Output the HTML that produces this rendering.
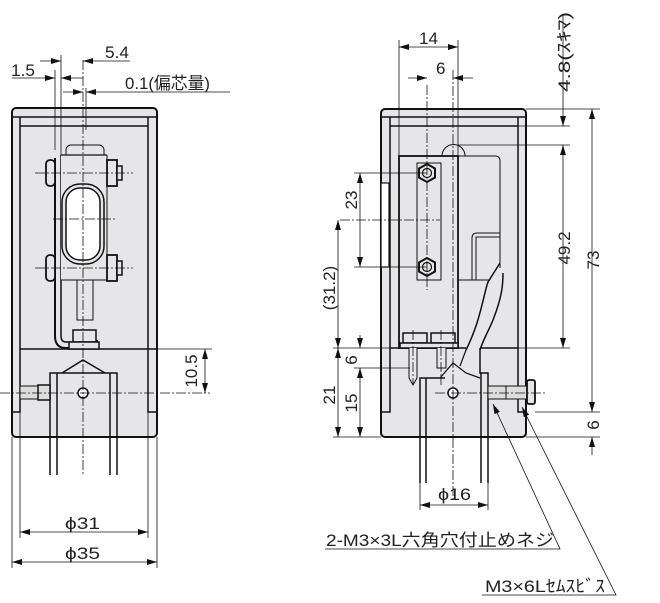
<!DOCTYPE html>
<html><head><meta charset="utf-8"><style>
html,body{margin:0;padding:0;background:#fff;}
svg{display:block;}
text{font-family:"Liberation Sans","Noto Sans CJK JP",sans-serif;font-size:17px;font-weight:normal;fill:#222;stroke:none;}
</style></head><body>
<svg width="660" height="603" viewBox="0 0 660 603" xmlns="http://www.w3.org/2000/svg">
<defs>
<marker id="a" markerWidth="10" markerHeight="6" refX="10" refY="3" orient="auto-start-reverse" markerUnits="userSpaceOnUse"><path d="M0,0 L10,3 L0,6 Z" fill="#111" stroke="none"/></marker>
</defs>
<g stroke="#111" fill="none" stroke-width="1">
<!-- LEFT VIEW -->
<rect x="12" y="108" width="145" height="329" rx="4" fill="#e6e6e8" stroke-width="2"/>
<line x1="12" y1="117" x2="157" y2="117" stroke-width="1.5"/>
<line x1="20" y1="126" x2="148" y2="126" stroke-width="1.5"/>
<polyline points="20,117 20,412 12,412" stroke-width="1.5"/>
<polyline points="148,117 148,412 157,412" stroke-width="1.5"/>
<line x1="20" y1="349" x2="157" y2="349" stroke-width="1.5"/>
<polyline points="50,475 50,373 117,373 117,475" stroke-width="1.5"/>
<line x1="57" y1="373" x2="57" y2="475" stroke-width="1.5"/>
<line x1="110" y1="373" x2="110" y2="475" stroke-width="1.5"/>
<polyline points="62,373 83,360 105,373" stroke-width="1.5"/>
<circle cx="83" cy="393" r="5" fill="#fff" stroke-width="1.5"/>
<rect x="20" y="386" width="18" height="13" fill="#ddd"/>
<rect x="38" y="385" width="12" height="15" fill="#ddd" stroke-width="1.5"/>
<rect x="66" y="145" width="38" height="20" rx="5" fill="#e6e6e8"/>
<path d="M55,158 L55,336 Q55,348 66,348 L97,348 L97,340" stroke-width="2"/>
<path d="M61,155 L61,336 Q61,342 66,342 L72,342" stroke-width="1.5"/>
<rect x="61" y="155" width="46" height="125" fill="#e6e6e8" stroke="none"/>
<line x1="61" y1="155" x2="107" y2="155" stroke-width="1.2"/>
<line x1="107" y1="155" x2="107" y2="280"/>
<line x1="61" y1="280" x2="107" y2="280"/>
<rect x="62" y="184" width="42" height="80" rx="18" fill="#e6e6e8" stroke-width="1.5"/>
<rect x="66" y="188" width="34" height="72" rx="14" fill="#fff" stroke-width="1.5"/>
<rect x="46" y="160" width="9" height="26" rx="4" fill="#e6e6e8" stroke-width="1.8"/>
<rect x="46" y="255" width="9" height="26" rx="4" fill="#e6e6e8" stroke-width="1.8"/>
<rect x="107" y="160" width="10" height="26" fill="#e6e6e8" stroke-width="1.8"/>
<rect x="117" y="166" width="5" height="14" fill="#e6e6e8" stroke-width="1.5"/>
<rect x="107" y="255" width="10" height="26" fill="#e6e6e8" stroke-width="1.8"/>
<rect x="117" y="261" width="5" height="14" fill="#e6e6e8" stroke-width="1.5"/>
<rect x="77" y="280" width="16" height="40" fill="#e6e6e8"/>
<rect x="73" y="330" width="23" height="12" fill="#e6e6e8" stroke-width="1.5"/>
<rect x="69" y="342" width="30" height="7" fill="#e6e6e8" stroke-width="1.5"/>
<g stroke-dasharray="10,2,2,2" stroke-width="0.8">
<line x1="83" y1="60" x2="83" y2="475"/>
<line x1="35" y1="173" x2="133" y2="173"/>
<line x1="35" y1="268" x2="133" y2="268"/>
<line x1="53" y1="219" x2="115" y2="219"/>
<line x1="0" y1="393" x2="210" y2="393"/>
</g>
<g stroke-width="0.8">
<line x1="55" y1="70" x2="55" y2="150"/>
<line x1="61" y1="55" x2="61" y2="155"/>
<line x1="86" y1="88" x2="86" y2="130"/>
<line x1="40" y1="61" x2="61" y2="61" marker-end="url(#a)"/>
<line x1="83" y1="61" x2="130" y2="61" marker-start="url(#a)"/>
<line x1="12" y1="78" x2="55" y2="78" marker-end="url(#a)"/>
<line x1="61" y1="78" x2="83" y2="78" marker-start="url(#a)"/>
<line x1="63" y1="92" x2="83" y2="92" marker-end="url(#a)"/>
<line x1="86" y1="92" x2="230" y2="92" marker-start="url(#a)"/>
<line x1="157" y1="349" x2="212" y2="349"/>
<line x1="205" y1="349" x2="205" y2="393" marker-start="url(#a)" marker-end="url(#a)"/>
<line x1="20" y1="412" x2="20" y2="538"/>
<line x1="148" y1="412" x2="148" y2="538"/>
<line x1="12" y1="437" x2="12" y2="568"/>
<line x1="157" y1="437" x2="157" y2="568"/>
<line x1="20" y1="532" x2="148" y2="532" marker-start="url(#a)" marker-end="url(#a)"/>
<line x1="12" y1="562" x2="157" y2="562" marker-start="url(#a)" marker-end="url(#a)"/>
</g>

<!-- RIGHT VIEW -->
<rect x="381" y="109" width="145" height="328" rx="4" fill="#e6e6e8" stroke-width="2"/>
<line x1="381" y1="117" x2="526" y2="117" stroke-width="1.5"/>
<line x1="390" y1="126" x2="518" y2="126" stroke-width="1.5"/>
<polyline points="390,117 390,412 381,412" stroke-width="1.5"/>
<polyline points="518,117 518,412 526,412" stroke-width="1.5"/>
<line x1="390" y1="348" x2="466" y2="348" stroke-width="1.5"/>
<line x1="480" y1="348" x2="518" y2="348" stroke-width="1.5"/>
<rect x="381" y="183" width="8" height="84" fill="#fff" stroke-width="1.2"/>
<polyline points="420,483 420,378 445,378" stroke-width="1.5"/>
<line x1="426" y1="378" x2="426" y2="483" stroke-width="1.5"/>
<polyline points="480,348 480,373 488,373 488,483" stroke-width="1.5"/>
<line x1="481" y1="373" x2="481" y2="483" stroke-width="1.5"/>
<polyline points="440,378 453,363 466,373 480,378" stroke-width="1.2"/>
<circle cx="453" cy="393" r="5" fill="#fff" stroke-width="1.5"/>
<path d="M442,156 A11,11 0 0 1 465,156" fill="#e6e6e8"/>
<path d="M458,156 L495,156 Q500,156 500,161 L500,268" />
<path d="M472,280 L472,238 Q472,233 477,233 L500,233" />
<path d="M476,280 L476,237 L500,237" />
<line x1="458" y1="280" x2="490" y2="280"/>
<rect x="399" y="156" width="59" height="192" fill="#e6e6e8" stroke-width="1.8"/>
<rect x="417" y="163" width="24" height="117" fill="#e6e6e8"/>
<path d="M500,263 L488,282 C485,290 484,300 477,323 C473,335 470,342 466,350" stroke-width="1.5"/>
<path d="M503,273 C503,285 502,297 493,320 C489,330 483,340 480,350" stroke-width="1.5"/>
<path d="M466,350 L460,366" stroke-width="1.2"/>
<polygon points="427,164 435,168.5 435,177.5 427,182 419,177.5 419,168.5" fill="#e6e6e8" stroke-width="2"/>
<circle cx="427" cy="173" r="4.5" stroke-width="1.2"/>
<polygon points="427,258 435,262.5 435,271.5 427,276 419,271.5 419,262.5" fill="#e6e6e8" stroke-width="2"/>
<circle cx="427" cy="267" r="4.5" stroke-width="1.2"/>
<rect x="403" y="333" width="24" height="10" fill="#e6e6e8" stroke-width="1.5"/>
<rect x="431" y="333" width="24" height="10" fill="#e6e6e8" stroke-width="1.5"/>
<rect x="400" y="343" width="58" height="5" fill="#e6e6e8" stroke-width="1.5"/>
<path d="M409,348 L409,378 L413,385 L417,378 L417,348" fill="#e6e6e8"/>
<path d="M437,348 L437,368 L446,368 L446,348" fill="#e6e6e8"/>
<rect x="488" y="386" width="18" height="13" fill="#ddd"/>
<rect x="506" y="386" width="21" height="13" fill="#ddd"/>
<rect x="527" y="380" width="8" height="24" rx="2" fill="#e6e6e8" stroke-width="1.8"/>
<g stroke-dasharray="10,2,2,2" stroke-width="0.8">
<line x1="453" y1="70" x2="453" y2="500"/>
<line x1="427" y1="85" x2="427" y2="290"/>
<line x1="340" y1="220" x2="440" y2="220"/>
<line x1="435" y1="393" x2="545" y2="393"/>
<line x1="413" y1="330" x2="413" y2="385"/>
<line x1="441" y1="330" x2="441" y2="385"/>
</g>
<g stroke-width="0.8">
<line x1="399" y1="40" x2="399" y2="156"/>
<line x1="458" y1="40" x2="458" y2="156"/>
<line x1="399" y1="47" x2="458" y2="47" marker-start="url(#a)" marker-end="url(#a)"/>
<line x1="408" y1="78" x2="427" y2="78" marker-end="url(#a)"/>
<line x1="453" y1="78" x2="473" y2="78" marker-start="url(#a)"/>
<line x1="526" y1="109" x2="600" y2="109"/>
<line x1="518" y1="126" x2="570" y2="126"/>
<line x1="458" y1="145" x2="570" y2="145"/>
<line x1="518" y1="348" x2="570" y2="348"/>
<line x1="535" y1="412" x2="600" y2="412"/>
<line x1="526" y1="437" x2="600" y2="437"/>
<line x1="563" y1="15" x2="563" y2="126" marker-end="url(#a)"/>
<line x1="563" y1="145" x2="563" y2="348" marker-start="url(#a)" marker-end="url(#a)"/>
<line x1="592" y1="109" x2="592" y2="412" marker-start="url(#a)" marker-end="url(#a)"/>
<line x1="592" y1="455" x2="592" y2="437" marker-end="url(#a)"/>
<line x1="354" y1="173" x2="427" y2="173"/>
<line x1="354" y1="267" x2="427" y2="267"/>
<line x1="333" y1="348" x2="400" y2="348"/>
<line x1="354" y1="368" x2="410" y2="368"/>
<line x1="333" y1="437" x2="381" y2="437"/>
<line x1="360" y1="173" x2="360" y2="267" marker-start="url(#a)" marker-end="url(#a)"/>
<line x1="338" y1="220" x2="338" y2="348" marker-start="url(#a)" marker-end="url(#a)"/>
<line x1="360" y1="335" x2="360" y2="348" marker-end="url(#a)"/>
<line x1="360" y1="368" x2="360" y2="437" marker-start="url(#a)" marker-end="url(#a)"/>
<line x1="338" y1="348" x2="338" y2="437" marker-start="url(#a)" marker-end="url(#a)"/>
<line x1="420" y1="483" x2="420" y2="510"/>
<line x1="488" y1="483" x2="488" y2="510"/>
<line x1="420" y1="505" x2="488" y2="505" marker-start="url(#a)" marker-end="url(#a)"/>
<polyline points="325,549 560,549 493,404" marker-end="url(#a)"/>
<polyline points="482,595 616,595 522,407" marker-end="url(#a)"/>
</g>
</g>

<text x="11" y="76" textLength="24" lengthAdjust="spacingAndGlyphs">1.5</text>
<text x="105" y="58" textLength="24" lengthAdjust="spacingAndGlyphs">5.4</text>
<text x="125" y="89" textLength="85" lengthAdjust="spacingAndGlyphs">0.1(偏芯量)</text>
<text x="65" y="529" textLength="35" lengthAdjust="spacingAndGlyphs">ϕ31</text>
<text x="65" y="559" textLength="35" lengthAdjust="spacingAndGlyphs">ϕ35</text>
<text transform="translate(197,371) rotate(-90)" text-anchor="middle">10.5</text>
<text x="419" y="44">14</text>
<text x="436" y="74">6</text>
<text transform="translate(570,52) rotate(-90)" text-anchor="middle" textLength="80" lengthAdjust="spacingAndGlyphs">4.8(ｽｷﾏ)</text>
<text transform="translate(570,248) rotate(-90)" text-anchor="middle">49.2</text>
<text transform="translate(599,260) rotate(-90)" text-anchor="middle">73</text>
<text transform="translate(599,425) rotate(-90)" text-anchor="middle">6</text>
<text transform="translate(357,200) rotate(-90)" text-anchor="middle">23</text>
<text transform="translate(335,288) rotate(-90)" text-anchor="middle">(31.2)</text>
<text transform="translate(357,360) rotate(-90)" text-anchor="middle">6</text>
<text transform="translate(335,395) rotate(-90)" text-anchor="middle">21</text>
<text transform="translate(357,403) rotate(-90)" text-anchor="middle">15</text>
<text x="438" y="500" textLength="33" lengthAdjust="spacingAndGlyphs">ϕ16</text>
<text x="326" y="546" textLength="228" lengthAdjust="spacingAndGlyphs">2-M3×3L六角穴付止めネジ</text>
<text x="485" y="592" textLength="120" lengthAdjust="spacingAndGlyphs">M3×6Lｾﾑｽﾋﾞｽ</text>
</svg>
</body></html>
